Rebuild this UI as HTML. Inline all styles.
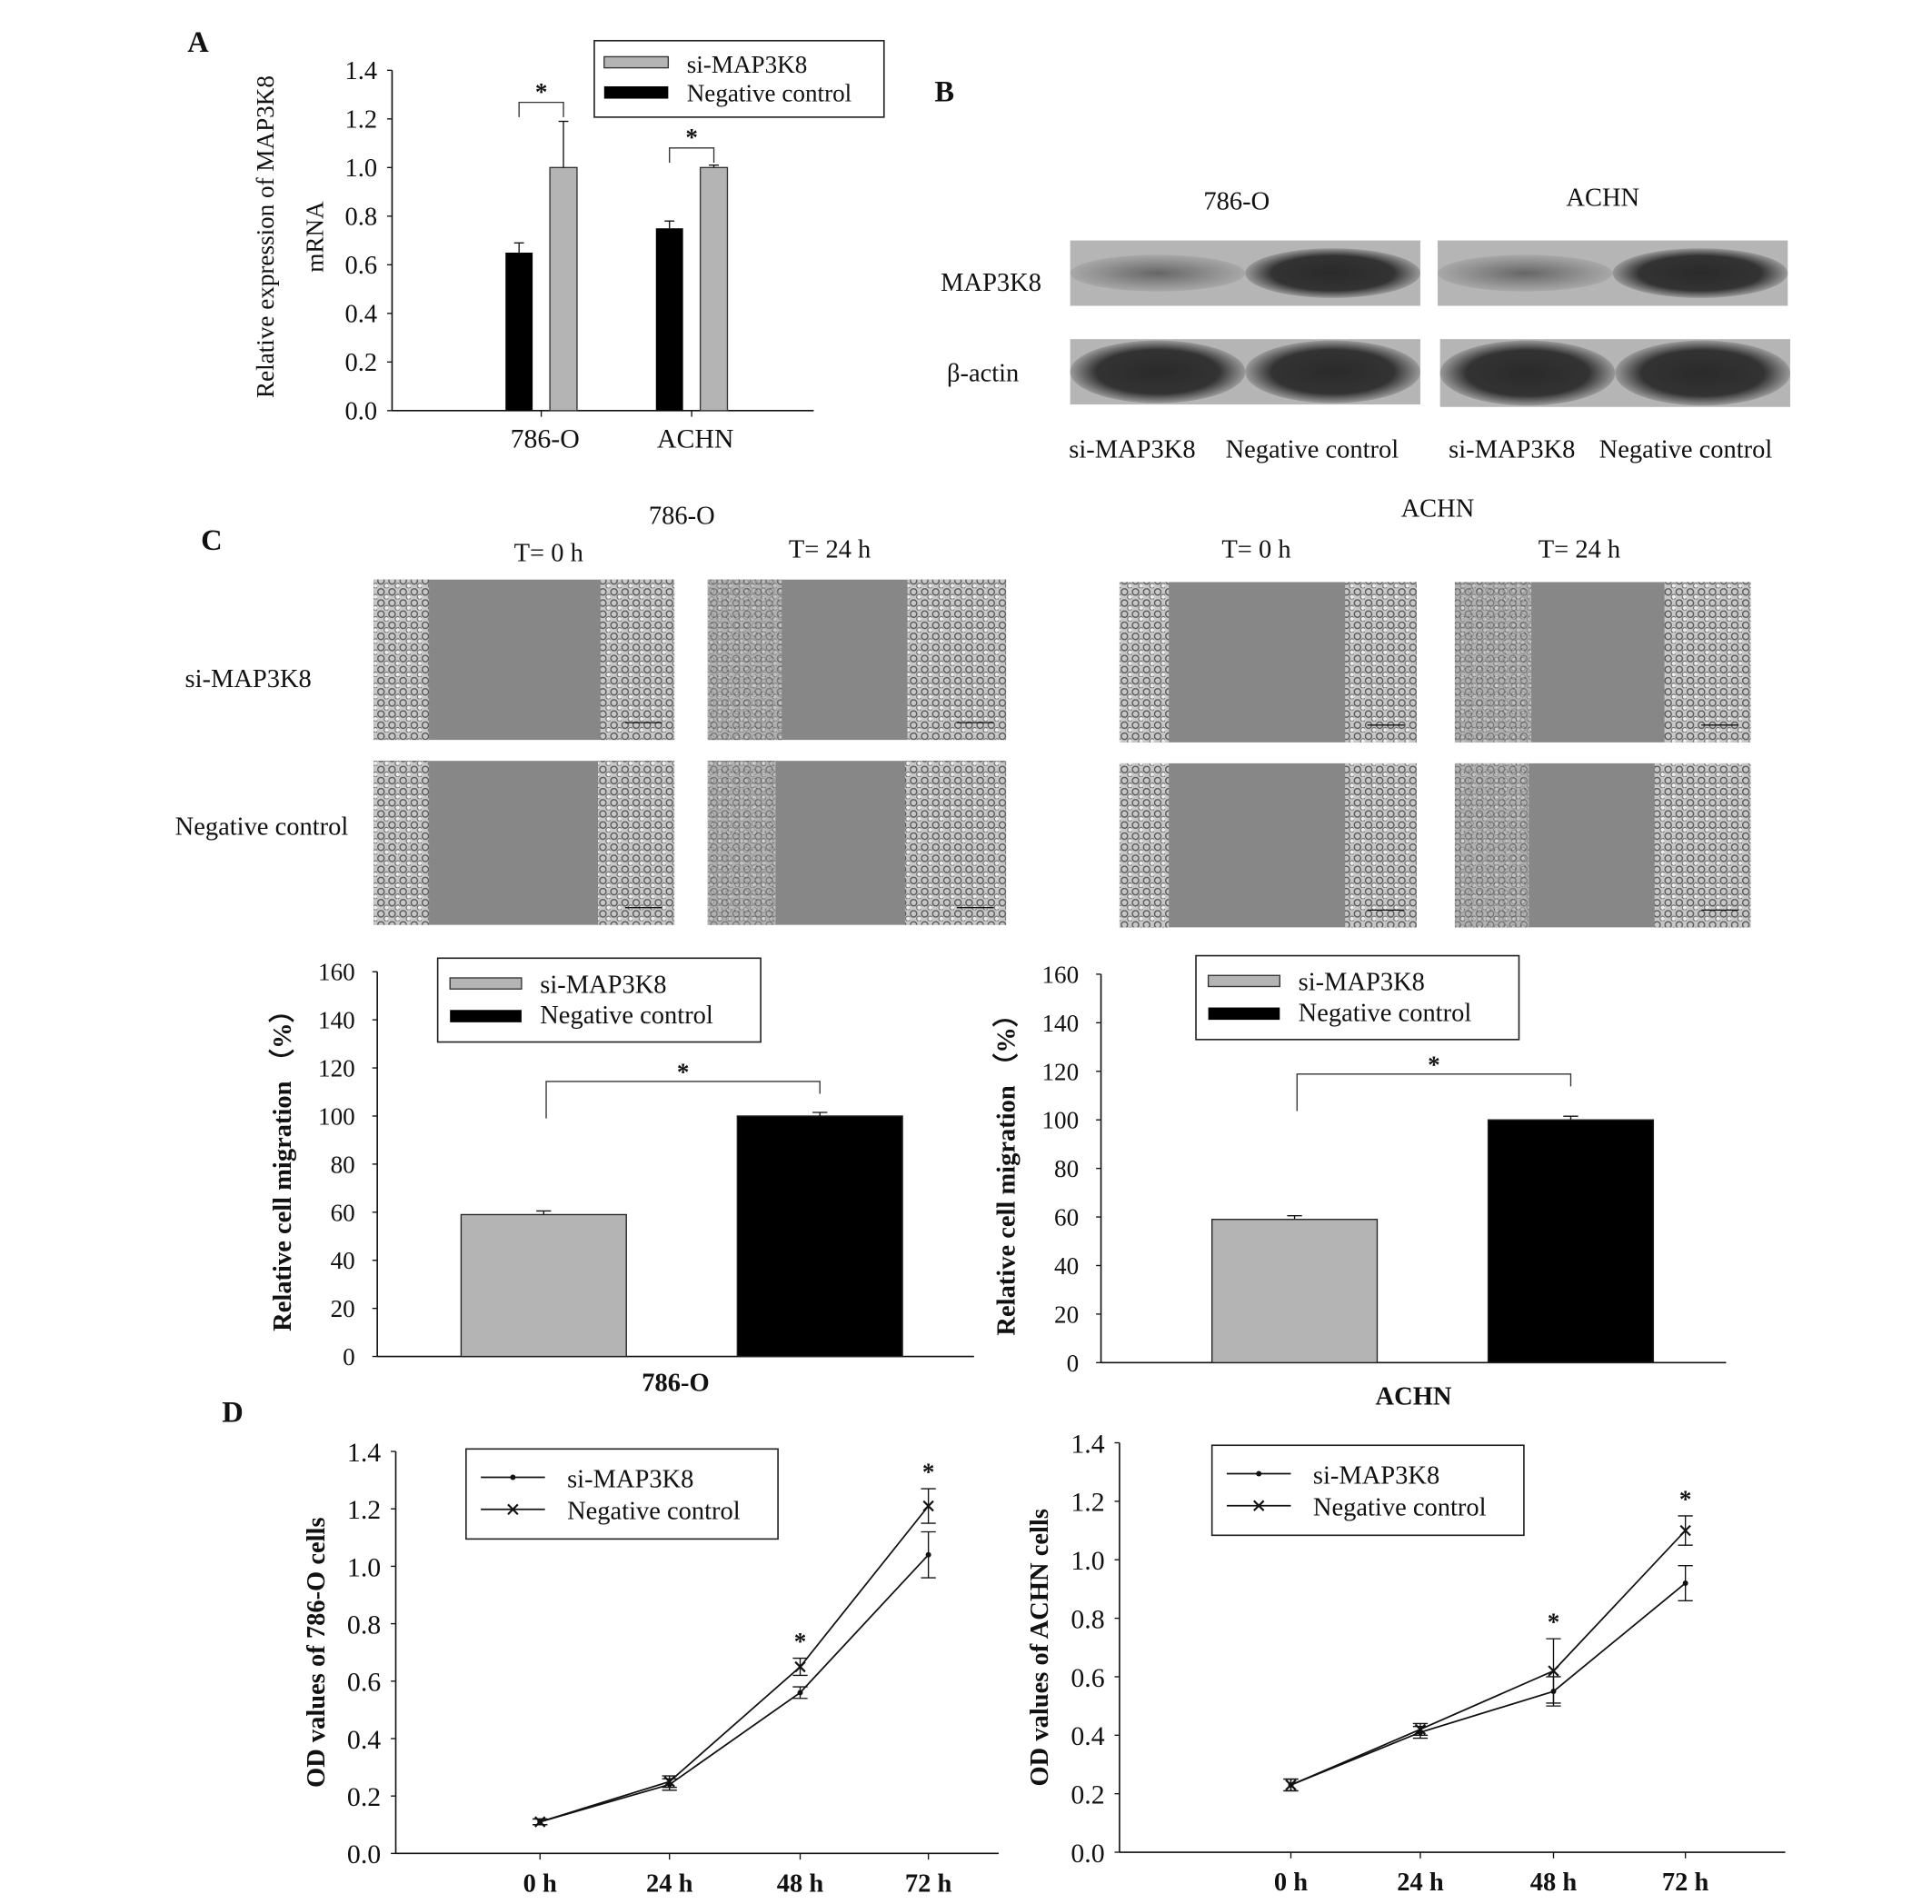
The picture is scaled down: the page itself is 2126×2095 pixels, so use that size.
<!DOCTYPE html>
<html><head><meta charset="utf-8"><style>
html,body{margin:0;padding:0;background:#fff;}
svg{display:block;font-family:"Liberation Serif",serif;}
</style></head><body>
<svg id="fig" width="2126" height="2095" viewBox="0 0 1567 1544" preserveAspectRatio="none" xmlns="http://www.w3.org/2000/svg">
<defs>
<pattern id="cells" width="9" height="9" patternUnits="userSpaceOnUse">
<rect width="9" height="9" fill="#c8c8c8"/>
<circle cx="3" cy="3" r="2.6" fill="none" stroke="#555" stroke-width="1"/>
<circle cx="7.5" cy="7" r="2" fill="#eee" stroke="#666" stroke-width="0.8"/>
</pattern>
<pattern id="cellsd" width="7" height="7" patternUnits="userSpaceOnUse">
<rect width="7" height="7" fill="#9a9a9a"/>
<circle cx="3" cy="3" r="2" fill="#bbb" stroke="#555" stroke-width="0.8"/>
</pattern>
<radialGradient id="band" cx="50%" cy="50%" r="50%"><stop offset="0" stop-color="#2a2a2a"/><stop offset="0.7" stop-color="#333"/><stop offset="1" stop-color="#999"/></radialGradient>
<radialGradient id="bandf" cx="50%" cy="50%" r="50%"><stop offset="0" stop-color="#666"/><stop offset="1" stop-color="#a8a8a8"/></radialGradient>
</defs>
<g id="root"></g>
</svg>
<script>
// ---- data ----
const aCats=["786-O","ACHN"];
const aNC=[0.65,0.75], aNCerr=[0.04,0.03];
const aSi=[1.0,1.0], aSiErr=[0.19,0.01];
const cGroups=["si-MAP3K8","Negative control"];
const c786=[59,100], c786err=[1.5,1.5];
const cACHN=[59,100], cACHNerr=[1.5,1.5];
const dTimes=["0 h","24 h","48 h","72 h"];
const d786si=[0.11,0.24,0.56,1.04], d786siErr=[0.01,0.02,0.02,0.08];
const d786nc=[0.11,0.25,0.65,1.21], d786ncErr=[0.01,0.02,0.03,0.06];
const dAsi=[0.23,0.41,0.55,0.92], dAsiErr=[0.02,0.02,0.05,0.06];
const dAnc=[0.23,0.42,0.62,1.10], dAncErr=[0.02,0.02,0.11,0.05];
const ticksA=[0,0.2,0.4,0.6,0.8,1.0,1.2,1.4];
const ticksC=[0,20,40,60,80,100,120,140,160];

const NS="http://www.w3.org/2000/svg";
const root=document.getElementById('root');
function el(tag,attrs,parent,text){const e=document.createElementNS(NS,tag);for(const k in attrs)e.setAttribute(k,attrs[k]);if(text!==undefined)e.textContent=text;(parent||root).appendChild(e);return e;}
function txt(x,y,s,size,opt,parent){opt=opt||{};const t=el('text',{x:x,y:y,'font-size':size,'text-anchor':opt.anchor||'start','font-weight':opt.bold?'bold':'normal',fill:'#111'},parent,s);if(opt.rot)t.setAttribute('transform',`rotate(${opt.rot} ${x} ${y})`);return t;}
function line(x1,y1,x2,y2,w,parent){return el('line',{x1,y1,x2,y2,stroke:'#111','stroke-width':w||1.2},parent);}

[["A",152,42],["B",758,82],["C",163,446],["D",180,1153]].forEach(p=>{const t=txt(p[1],p[2],p[0],24,{bold:true});});

// ---------- Panel A ----------
(function(){
 const g=el('g',{});  
 const x0=318,y0=333,ppu=276/1.4;
 const Y=v=>y0-v*ppu;
 line(x0,Y(1.4),x0,y0,1.2,g); line(x0,y0,660,y0,1.2,g);
 ticksA.forEach(t=>{line(x0-4,Y(t),x0,Y(t),1,g);txt(x0-12,Y(t)+7,t.toFixed(1),21,{anchor:'end'},g);});
 txt(222,192,"Relative expression of MAP3K8",20,{anchor:'middle',rot:-90},g);
 txt(262,192,"mRNA",20,{anchor:'middle',rot:-90},g);
 const centers=[439,561];
 aCats.forEach((c,i)=>{
  const cx=centers[i];
  line(cx,y0,cx,y0+5,1,g);
  txt(cx+3,363,c,22,{anchor:'middle'},g);
  const bN=el('rect',{x:cx-29,y:Y(aNC[i]),width:22,height:aNC[i]*ppu,fill:'#000'},g);
   
  line(cx-18,Y(aNC[i]),cx-18,Y(aNC[i]+aNCerr[i]),1,g); line(cx-22,Y(aNC[i]+aNCerr[i]),cx-14,Y(aNC[i]+aNCerr[i]),1,g);
  const bS=el('rect',{x:cx+7,y:Y(aSi[i]),width:22,height:aSi[i]*ppu,fill:'#b4b4b4',stroke:'#333','stroke-width':1},g);
   
  line(cx+18,Y(aSi[i]),cx+18,Y(aSi[i]+aSiErr[i]),1,g); line(cx+14,Y(aSi[i]+aSiErr[i]),cx+22,Y(aSi[i]+aSiErr[i]),1,g);
  const by=i==0?83:120;
  el('path',{d:`M${cx-18} ${by+12}V${by}H${cx+18}V${by+12}`,fill:'none',stroke:'#333','stroke-width':1},g);
  txt(cx,by-2,"*",20,{anchor:'middle',bold:true},g);
 });
 const lg=el('g',{},g);  
 el('rect',{x:482,y:33,width:235,height:62,fill:'#fff',stroke:'#222','stroke-width':1.2},lg);
 el('rect',{x:490,y:46,width:52,height:9,fill:'#b4b4b4',stroke:'#333'},lg);
 el('rect',{x:490,y:70,width:52,height:10,fill:'#000'},lg);
 txt(557,59,"si-MAP3K8",20,{},lg); txt(557,82,"Negative control",20,{},lg);
})();

// ---------- Panel B ----------
(function(){
 const g=el('g',{});  
 txt(1003,170,"786-O",21,{anchor:'middle'},g); txt(1300,167,"ACHN",21,{anchor:'middle'},g);
 txt(763,236,"MAP3K8",21,{},g); txt(768,309,"β-actin",21,{},g);
 const boxes=[[868,195,284,53,0],[1166,195,284,53,0],[868,275,284,53,1],[1168,275,284,55,1]];
 boxes.forEach(b=>{
  el('rect',{x:b[0],y:b[1],width:b[2],height:b[3],fill:'#b5b5b5'},g);
  const w=b[2]/2;
  if(b[4]==0){
   el('ellipse',{cx:b[0]+w*0.5,cy:b[1]+b[3]/2,rx:w*0.5,ry:b[3]*0.28,fill:'url(#bandf)'},g);
   el('ellipse',{cx:b[0]+w*1.5,cy:b[1]+b[3]/2,rx:w*0.5,ry:b[3]*0.38,fill:'url(#band)'},g);
  } else {
   el('ellipse',{cx:b[0]+w*0.5,cy:b[1]+b[3]/2,rx:w*0.5,ry:b[3]*0.48,fill:'url(#band)'},g);
   el('ellipse',{cx:b[0]+w*1.5,cy:b[1]+b[3]/2,rx:w*0.5,ry:b[3]*0.48,fill:'url(#band)'},g);
  }
 });
 txt(867,371,"si-MAP3K8",21,{},g); txt(994,371,"Negative control",21,{},g);
 txt(1175,371,"si-MAP3K8",21,{},g); txt(1297,371,"Negative control",21,{},g);
})();

// ---------- Panel C images ----------
(function(){
 const g=el('g',{});  
 txt(553,425,"786-O",21,{anchor:'middle'},g); txt(1166,419,"ACHN",21,{anchor:'middle'},g);
 txt(445,455,"T= 0 h",21,{anchor:'middle'},g); txt(673,452,"T= 24 h",21,{anchor:'middle'},g);
 txt(1019,452,"T= 0 h",21,{anchor:'middle'},g); txt(1281,452,"T= 24 h",21,{anchor:'middle'},g);
 txt(150,557,"si-MAP3K8",21,{},g); txt(142,677,"Negative control",21,{},g);
 const imgs=[[303,470,244,130,45,60],[574,470,242,130,60,80],[303,617,244,133,45,62],[574,617,242,133,55,82],
  [908,472,241,130,40,58],[1180,472,240,130,62,70],[908,619,241,133,40,58],[1180,619,240,133,60,78]];
 imgs.forEach(m=>{
  const [x,y,w,h,l,r]=m;
  el('rect',{x,y,width:w,height:h,fill:'#878787'},g);
  el('rect',{x,y,width:l,height:h,fill:'url(#cells)'},g);
  el('rect',{x:x+w-r,y,width:r,height:h,fill:'url(#cells)'},g);
  if(l>50){el('rect',{x,y,width:l,height:h,fill:'url(#cellsd)',opacity:0.5},g);}
  line(x+w-40,y+h-14,x+w-10,y+h-14,1,g);
 });
})();

// ---------- Panel C bar charts ----------
function cChart(name,x0,y0,ytop,xend,vals,errs,label,labY,legX,legY,brY,off){
 const g=el('g',{});  
 const ppu=(y0-ytop)/160, Y=v=>y0-v*ppu;
 line(x0,ytop,x0,y0,1.2,g); line(x0,y0,xend,y0,1.2,g);
 ticksC.forEach(t=>{line(x0-4,Y(t),x0,Y(t),1,g);txt(x0-18,Y(t)+7,String(t),20,{anchor:'end'},g);});
 txt(x0-70,(ytop+y0)/2,"Relative cell migration （%）",21,{anchor:'middle',rot:-90,bold:true},g);
 const xs=[x0+off,x0+off+224], fills=['#b4b4b4','#000'];
 vals.forEach((v,i)=>{
  const b=el('rect',{x:xs[i],y:Y(v),width:134,height:v*ppu,fill:fills[i],stroke:'#222','stroke-width':1},g);
   
  const cx=xs[i]+67; line(cx,Y(v),cx,Y(v+errs[i]),1,g); line(cx-6,Y(v+errs[i]),cx+6,Y(v+errs[i]),1,g);
 });
 const b1=xs[0]+69,b2=xs[1]+67;
 el('path',{d:`M${b1} ${brY+30}V${brY}H${b2}V${brY+10}`,fill:'none',stroke:'#333','stroke-width':1},g);
 txt((b1+b2)/2,brY-1,"*",20,{anchor:'middle',bold:true},g);
 txt((x0+xend)/2,labY,label,21,{anchor:'middle',bold:true},g);
 const lg=el('g',{},g);  
 el('rect',{x:legX,y:legY,width:262,height:68,fill:'#fff',stroke:'#222','stroke-width':1.2},lg);
 el('rect',{x:legX+10,y:legY+16,width:58,height:9,fill:'#b4b4b4',stroke:'#333'},lg);
 el('rect',{x:legX+10,y:legY+42,width:58,height:10,fill:'#000'},lg);
 txt(legX+83,legY+28,cGroups[0],21,{},lg); txt(legX+83,legY+53,cGroups[1],21,{},lg);
}
cChart('panel-c-786o-migration-chart',306,1100,788,790,c786,c786err,"786-O",1128,355,777,877,68);
cChart('panel-c-achn-migration-chart',893,1105,790,1400,cACHN,cACHNerr,"ACHN",1139,970,775,871,90);

// ---------- Panel D ----------
function dChart(name,x0,y0,ytop,xend,xs,si,siE,nc,ncE,ylab,legX,legY){
 const g=el('g',{});  
 const ppu=(y0-ytop)/1.4, Y=v=>y0-v*ppu;
 line(x0,ytop,x0,y0,1.2,g); line(x0,y0,xend,y0,1.2,g);
 ticksA.forEach(t=>{line(x0-4,Y(t),x0,Y(t),1,g);txt(x0-12,Y(t)+8,t.toFixed(1),22,{anchor:'end'},g);});
 txt(x0-58,(ytop+y0)/2,ylab,21,{anchor:'middle',rot:-90,bold:true},g);
 dTimes.forEach((t,i)=>{line(xs[i],y0,xs[i],y0+5,1,g);txt(xs[i],y0+31,t,21,{anchor:'middle',bold:true},g);});
 [[si,siE,'si'],[nc,ncE,'nc']].forEach(s=>{
  const [v,e,k]=s;
  const p=el('polyline',{points:v.map((d,i)=>xs[i]+','+Y(d)).join(' '),fill:'none',stroke:'#111','stroke-width':1.3},g);
   
  v.forEach((d,i)=>{
   line(xs[i],Y(d-e[i]),xs[i],Y(d+e[i]),1,g);
   line(xs[i]-6,Y(d-e[i]),xs[i]+6,Y(d-e[i]),1,g); line(xs[i]-6,Y(d+e[i]),xs[i]+6,Y(d+e[i]),1,g);
   if(k=='si') el('circle',{cx:xs[i],cy:Y(d),r:2.2,fill:'#111'},g);
   else el('path',{d:`M${xs[i]-4} ${Y(d)-4}l8 8M${xs[i]+4} ${Y(d)-4}l-8 8`,stroke:'#111','stroke-width':1.6},g);
  });
 });
 [2,3].forEach(i=>{txt(xs[i],Y(Math.max(nc[i]+ncE[i],si[i]+siE[i]))-7,"*",20,{anchor:'middle',bold:true},g);});
 const lg=el('g',{},g);  
 el('rect',{x:legX,y:legY,width:253,height:73,fill:'#fff',stroke:'#222','stroke-width':1.2},lg);
 line(legX+12,legY+23,legX+64,legY+23,1.3,lg); el('circle',{cx:legX+38,cy:legY+23,r:2.2,fill:'#111'},lg);
 line(legX+12,legY+49,legX+64,legY+49,1.3,lg);
 el('path',{d:`M${legX+34} ${legY+45}l8 8M${legX+42} ${legY+45}l-8 8`,stroke:'#111','stroke-width':1.6},lg);
 txt(legX+82,legY+31,"si-MAP3K8",21,{},lg); txt(legX+82,legY+57,"Negative control",21,{},lg);
}
dChart('panel-d-786o-proliferation-chart',321,1503,1177,810,[438,543,649,753],d786si,d786siErr,d786nc,d786ncErr,"OD values of 786-O cells",378,1175);
dChart('panel-d-achn-proliferation-chart',908,1502,1170,1448,[1047,1152,1260,1367],dAsi,dAsiErr,dAnc,dAncErr,"OD values of ACHN cells",983,1172);
</script>
</body></html>
